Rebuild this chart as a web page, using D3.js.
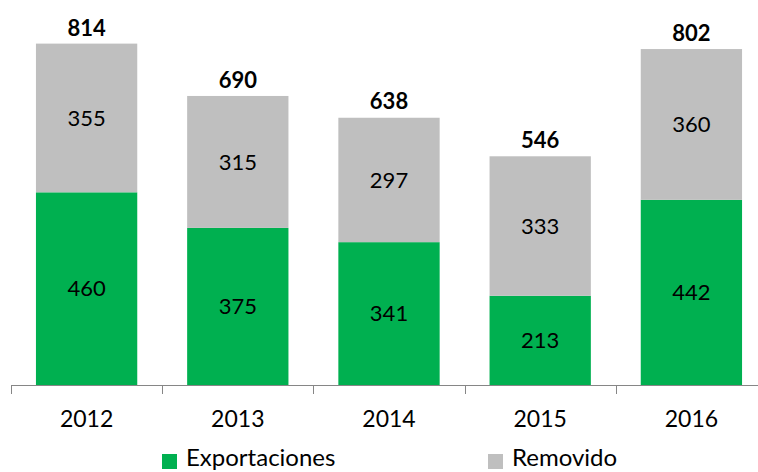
<!DOCTYPE html>
<html>
<head>
<meta charset="utf-8">
<script src="https://cdn.jsdelivr.net/npm/d3@7"></script>
<style>
  html, body { margin: 0; padding: 0; background: #fff; }
  svg { display: block; font-family: Lato, "Open Sans", sans-serif; }
</style>
</head>
<body>
<div id="chart"></div>
<script>
// chart data
const years = ["2012", "2013", "2014", "2015", "2016"];
const exportaciones = [460, 375, 341, 213, 442];
const removido = [355, 315, 297, 333, 360];
const totals = [814, 690, 638, 546, 802];
const seriesNames = ["Exportaciones", "Removido"];
const seriesColors = ["#00B050", "#BFBFBF"];

const W = 758, H = 472;
const svg = d3.select("#chart").append("svg")
  .attr("width", W)
  .attr("height", H);

const x = d3.scaleBand()
  .domain(years)
  .range([11, 767])
  .paddingInner(0.33)
  .paddingOuter(0.165);

const y = d3.scaleLinear()
  .domain([0, 900])
  .range([385, 8]);

const rows = years.map((yr, i) => ({ year: yr, Exportaciones: exportaciones[i], Removido: removido[i], total: totals[i] }));
const stacked = d3.stack().keys(seriesNames)(rows);

// bars
stacked.forEach((layer, li) => {
  const g = svg.append("g");
  g.selectAll("rect")
    .data(layer)
    .enter().append("rect")
    .attr("x", d => x(d.data.year))
    .attr("y", d => y(d[1]))
    .attr("width", x.bandwidth())
    .attr("height", d => y(d[0]) - y(d[1]))
    .attr("fill", seriesColors[li]);

  g.selectAll("text")
    .data(layer)
    .enter().append("text")
    .attr("x", d => x(d.data.year) + x.bandwidth() / 2)
    .attr("y", d => (y(d[0]) + y(d[1])) / 2)
    .attr("dy", "0.35em")
    .attr("text-anchor", "middle")
    .style("font-size", "22px")
    .style("fill", "#000")
    .text(d => d[1] - d[0]);
});

// totals on top
svg.append("g").selectAll("text")
  .data(rows)
  .enter().append("text")
  .attr("x", d => x(d.year) + x.bandwidth() / 2)
  .attr("y", d => y(d.total) - 16)
  .attr("dy", "0.35em")
  .attr("text-anchor", "middle")
  .style("font-size", "22px")
  .style("font-weight", "bold")
  .style("fill", "#000")
  .text(d => d.total);

// category axis: line with ticks between categories
const axis = svg.append("g").attr("stroke", "#868686").attr("stroke-width", 1);
axis.append("line")
  .attr("x1", 11).attr("x2", W)
  .attr("y1", 385.5).attr("y2", 385.5);
d3.range(years.length + 1).forEach(i => {
  const tx = Math.round(11 + i * x.step()) + 0.5;
  axis.append("line")
    .attr("x1", tx).attr("x2", tx)
    .attr("y1", 385).attr("y2", 394);
});

svg.append("g").selectAll("text")
  .data(years)
  .enter().append("text")
  .attr("x", d => x(d) + x.bandwidth() / 2)
  .attr("y", 419)
  .attr("dy", "0.35em")
  .attr("text-anchor", "middle")
  .style("font-size", "23px")
  .style("fill", "#000")
  .text(d => d);

// legend
const legendX = [162, 488];
const legend = svg.append("g");
seriesNames.forEach((name, i) => {
  legend.append("rect")
    .attr("x", legendX[i]).attr("y", 454)
    .attr("width", 15).attr("height", 15)
    .attr("fill", seriesColors[i]);
  legend.append("text")
    .attr("x", legendX[i] + 24)
    .attr("y", 466)
    .style("font-size", "24px")
    .style("fill", "#000")
    .text(name);
});
</script>
</body>
</html>
